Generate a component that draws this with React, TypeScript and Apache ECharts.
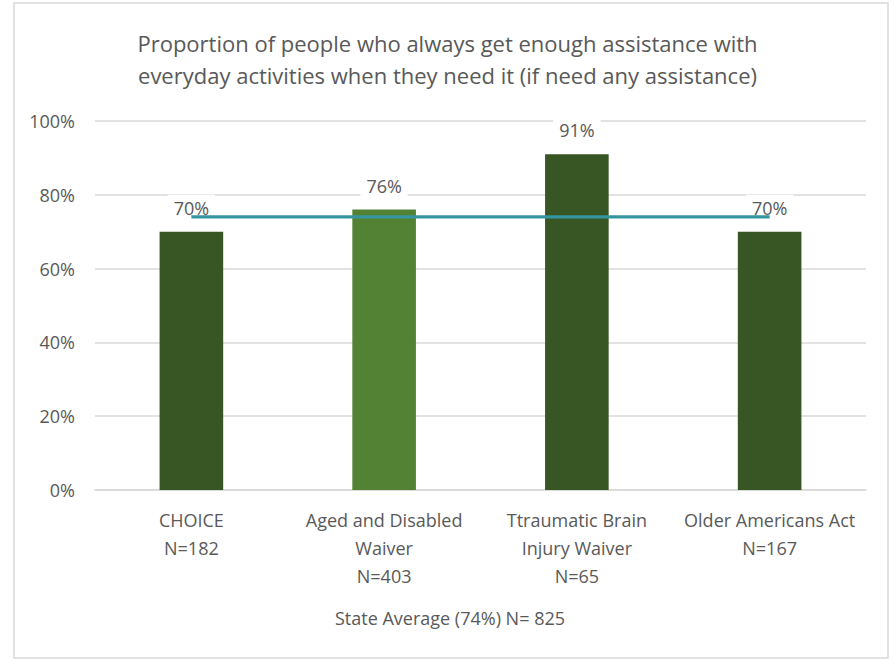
import React, { useEffect, useRef } from "react";
import * as echarts from "echarts";

const categories = [
  "CHOICE\nN=182",
  "Aged and Disabled\nWaiver\nN=403",
  "Ttraumatic Brain\nInjury Waiver\nN=65",
  "Older Americans Act\nN=167",
];
const values = [70, 76, 91, 70];
const barColors = ["#375623", "#548235", "#375623", "#375623"];
const stateAverage = [74, 74, 74, 74];
const averageName = "State Average (74%) N= 825";
const titleText =
  "Proportion of people who always get enough assistance with\neveryday activities when they need it (if need any assistance)";

const FONT = "Open Sans";
const GRAY = "#595959";

export default function App() {
  const ref = useRef<HTMLDivElement>(null);
  useEffect(() => {
    if (!ref.current) return;
    const chart = echarts.init(ref.current, undefined, { renderer: "svg" });
    chart.setOption({
      animation: false,
      backgroundColor: "#ffffff",
      textStyle: { fontFamily: FONT },
      title: {
        text: titleText,
        left: "center",
        top: 22,
        textStyle: {
          fontFamily: FONT,
          fontSize: 22,
          fontWeight: "normal",
          color: GRAY,
          lineHeight: 32,
        },
      },
      graphic: [
        {
          type: "rect",
          shape: { x: 14, y: 3, width: 874, height: 655 },
          style: { fill: "none", stroke: "#d9d9d9", lineWidth: 1.5 },
          silent: true,
        },
      ],
      legend: {
        bottom: 29,
        left: "center",
        icon: "rect",
        itemWidth: 0,
        itemHeight: 0,
        itemGap: 0,
        data: [averageName],
        textStyle: { fontFamily: FONT, fontSize: 18, color: GRAY },
      },
      grid: { left: 95, right: 29, top: 121, bottom: 171 },
      xAxis: {
        type: "category",
        data: categories,
        axisTick: { show: false },
        axisLine: { lineStyle: { color: "#d9d9d9", width: 1.5 } },
        axisLabel: {
          fontFamily: FONT,
          fontSize: 18,
          color: GRAY,
          lineHeight: 28,
          margin: 16,
          interval: 0,
        },
      },
      yAxis: {
        type: "value",
        min: 0,
        max: 100,
        interval: 20,
        axisLine: { show: false },
        axisTick: { show: false },
        splitLine: { lineStyle: { color: "#d9d9d9", width: 1.5 } },
        axisLabel: {
          fontFamily: FONT,
          fontSize: 18,
          color: GRAY,
          margin: 20,
          formatter: "{value}%",
        },
      },
      series: [
        {
          type: "bar",
          name: "Programs",
          barWidth: "33%",
          z: 2,
          data: values.map((v, i) => ({
            value: v,
            itemStyle: { color: barColors[i] },
          })),
          label: {
            show: true,
            position: "top",
            distance: 11,
            formatter: "{c}%",
            fontFamily: FONT,
            fontSize: 18,
            color: GRAY,
            backgroundColor: "#ffffff",
            padding: [4, 6],
          },
        },
        {
          type: "line",
          name: averageName,
          data: stateAverage,
          z: 10,
          symbol: "none",
          lineStyle: { color: "#3595A0", width: 3.2 },
          itemStyle: { color: "#3595A0" },
        },
      ],
    });
    return () => chart.dispose();
  }, []);
  return (
    <div
      ref={ref}
      style={{ position: "fixed", left: 0, top: 0, width: 895, height: 661 }}
    />
  );
}
